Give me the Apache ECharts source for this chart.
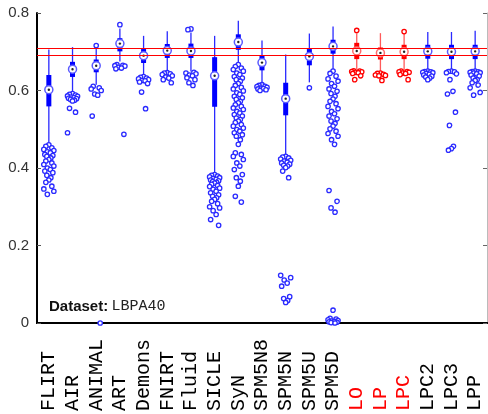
<!DOCTYPE html>
<html>
<head>
<meta charset="utf-8">
<script src="https://cdn.jsdelivr.net/npm/echarts@6/dist/echarts.min.js"></script>
<style>
  html, body { margin: 0; padding: 0; background: #fff; }
  #chart { width: 488px; height: 414px; }
</style>
</head>
<body>
<div id="chart"></div>
<script>
const categories = ['FLIRT', 'AIR', 'ANIMAL', 'ART', 'Demons', 'FNIRT', 'Fluid', 'SICLE', 'SyN', 'SPM5N8',
    'SPM5N', 'SPM5U', 'SPM5D', 'LO', 'LP', 'LPC', 'LPC2', 'LPC3', 'LPP'];
const redCategories = ['LO', 'LP', 'LPC'];

const whiskerHigh = [0.706, 0.712, 0.711, 0.760, 0.741, 0.753, 0.750, 0.741, 0.780, 0.729,
    0.693, 0.747, 0.765, 0.748, 0.748, 0.748, 0.751, 0.751, 0.754];
const boxHigh = [0.640, 0.674, 0.680, 0.735, 0.707, 0.720, 0.721, 0.686, 0.745, 0.690,
    0.620, 0.707, 0.731, 0.723, 0.711, 0.718, 0.718, 0.718, 0.718];
const medians = [0.602, 0.655, 0.664, 0.721, 0.690, 0.703, 0.702, 0.638, 0.725, 0.672,
    0.579, 0.688, 0.714, 0.702, 0.697, 0.700, 0.701, 0.700, 0.701];
const boxLow = [0.559, 0.635, 0.647, 0.701, 0.671, 0.684, 0.684, 0.558, 0.705, 0.652,
    0.536, 0.665, 0.695, 0.681, 0.680, 0.681, 0.682, 0.681, 0.681];
const whiskerLow = [0.456, 0.594, 0.615, 0.675, 0.641, 0.649, 0.649, 0.383, 0.671, 0.615,
    0.430, 0.621, 0.654, 0.654, 0.647, 0.652, 0.652, 0.652, 0.652];

const outliers = [
    [0.460, 0.456, 0.452, 0.448, 0.445, 0.442, 0.439, 0.435, 0.432, 0.430, 0.426, 0.422, 0.418, 0.413,
        0.409, 0.405, 0.400, 0.396, 0.392, 0.388, 0.381, 0.375, 0.369, 0.363, 0.353, 0.346, 0.340, 0.332],
    [0.592, 0.590, 0.588, 0.586, 0.585, 0.583, 0.582, 0.580, 0.579, 0.577, 0.575, 0.573, 0.554, 0.544, 0.491],
    [0.716, 0.611, 0.607, 0.604, 0.600, 0.591, 0.588, 0.534, 0.0],
    [0.770, 0.667, 0.665, 0.664, 0.663, 0.660, 0.658, 0.656, 0.487],
    [0.636, 0.634, 0.632, 0.630, 0.628, 0.626, 0.625, 0.622, 0.618, 0.596, 0.553],
    [0.646, 0.645, 0.643, 0.641, 0.638, 0.635, 0.632, 0.628, 0.620],
    [0.759, 0.757, 0.647, 0.645, 0.643, 0.640, 0.638, 0.633, 0.628, 0.620, 0.613],
    [0.383, 0.381, 0.379, 0.377, 0.375, 0.373, 0.371, 0.369, 0.367, 0.365, 0.363, 0.361, 0.358, 0.355,
        0.352, 0.348, 0.345, 0.340, 0.336, 0.331, 0.327, 0.323, 0.319, 0.314, 0.308, 0.300, 0.297, 0.290,
        0.280, 0.267, 0.252],
    [0.667, 0.662, 0.658, 0.654, 0.650, 0.645, 0.641, 0.636, 0.632, 0.628, 0.624, 0.618, 0.613, 0.608,
        0.604, 0.599, 0.594, 0.590, 0.585, 0.581, 0.577, 0.572, 0.568, 0.563, 0.559, 0.555, 0.551, 0.546,
        0.542, 0.538, 0.534, 0.529, 0.525, 0.521, 0.517, 0.512, 0.508, 0.503, 0.499, 0.495, 0.491, 0.486,
        0.482, 0.473, 0.461, 0.439, 0.435, 0.430, 0.422, 0.413, 0.405, 0.396, 0.383, 0.375, 0.366, 0.353,
        0.327, 0.312],
    [0.615, 0.613, 0.611, 0.610, 0.608, 0.606, 0.605, 0.604, 0.602, 0.600],
    [0.430, 0.428, 0.426, 0.423, 0.420, 0.418, 0.415, 0.413, 0.410, 0.407, 0.405, 0.401, 0.392, 0.375,
        0.123, 0.117, 0.111, 0.103, 0.095, 0.068, 0.063, 0.058, 0.053],
    [0.607],
    [0.650, 0.644, 0.637, 0.630, 0.624, 0.618, 0.611, 0.604, 0.598, 0.592, 0.585, 0.578, 0.572, 0.566,
        0.559, 0.553, 0.546, 0.540, 0.534, 0.527, 0.521, 0.515, 0.508, 0.501, 0.495, 0.489, 0.482, 0.473,
        0.461, 0.342, 0.314, 0.297, 0.286, 0.033, 0.012, 0.010, 0.008, 0.006, 0.005, 0.004, 0.003, 0.002,
        0.001, 0.0],
    [0.755, 0.651, 0.650, 0.649, 0.648, 0.647, 0.646, 0.644, 0.638, 0.628],
    [0.645, 0.644, 0.642, 0.640, 0.639, 0.638, 0.626],
    [0.752, 0.650, 0.649, 0.648, 0.647, 0.645, 0.644, 0.641, 0.628],
    [0.650, 0.649, 0.648, 0.647, 0.646, 0.644, 0.642, 0.640, 0.637, 0.635, 0.632, 0.628],
    [0.650, 0.649, 0.648, 0.646, 0.643, 0.628, 0.598, 0.591, 0.544, 0.510, 0.456, 0.450, 0.446],
    [0.650, 0.649, 0.648, 0.647, 0.646, 0.645, 0.643, 0.640, 0.637, 0.632, 0.628, 0.626, 0.620, 0.614,
        0.607, 0.595, 0.588]
];

const refLines = [0.710, 0.686];
const yTicks = [0, 0.2, 0.4, 0.6, 0.8];

const BLUE = '#0000ff';
const RED = '#ff0000';

function isRed(i) {
    return redCategories.indexOf(categories[i]) >= 0;
}

const boxData = categories.map((c, i) => [i, whiskerLow[i], boxLow[i], medians[i], boxHigh[i], whiskerHigh[i]]);
const outlierData = [];
outliers.forEach((list, i) => {
    list.forEach((v, k) => outlierData.push([i, v, k]));
});

// small horizontal spread so overlapping outliers stay visible
const jitter = [0, -3, 3, -5, 5, -1.5, 1.5, -4, 4, -2, 2];

const chart = echarts.init(document.getElementById('chart'));

const option = {
    animation: false,
    backgroundColor: '#fff',
    grid: {left: 37, right: 1, top: 13, bottom: 90},
    xAxis: [
        {
            type: 'category',
            data: categories,
            position: 'bottom',
            axisLine: {lineStyle: {color: '#000', width: 2}},
            axisTick: {show: false},
            axisLabel: {
                rotate: 90,
                align: 'left',
                margin: 88,
                interval: 0,
                fontFamily: 'Liberation Mono',
                fontSize: 20,
                color: '#000',
                formatter: function (v) {
                    return redCategories.indexOf(v) >= 0 ? '{r|' + v + '}' : v;
                },
                rich: {
                    r: {color: RED, fontFamily: 'Liberation Mono', fontSize: 20}
                }
            }
        },
        {
            type: 'category',
            data: categories,
            position: 'top',
            axisLine: {lineStyle: {color: '#000', width: 2}},
            axisTick: {show: false},
            axisLabel: {show: false}
        }
    ],
    yAxis: [
        {
            type: 'value',
            min: yTicks[0],
            max: yTicks[yTicks.length - 1],
            interval: 0.2,
            axisLine: {show: true, lineStyle: {color: '#000', width: 2}},
            axisTick: {show: true, inside: true, length: 4, lineStyle: {color: '#555'}},
            splitLine: {show: false},
            axisLabel: {
                margin: 8,
                fontFamily: 'Liberation Sans',
                fontSize: 15,
                color: '#333',
                formatter: v => v === 0 ? '0' : v.toFixed(1)
            }
        },
        {
            type: 'value',
            position: 'right',
            min: yTicks[0],
            max: yTicks[yTicks.length - 1],
            interval: 0.2,
            axisLine: {show: true, lineStyle: {color: '#bbb', width: 1}},
            axisTick: {show: true, inside: true, length: 4, lineStyle: {color: '#666'}},
            splitLine: {show: false},
            axisLabel: {show: false}
        }
    ],
    graphic: [
        {
            type: 'text',
            left: 49,
            top: 299,
            style: {
                text: '{b|Dataset:} {m|LBPA40}',
                rich: {
                    b: {fontFamily: 'Liberation Sans', fontWeight: 'bold', fontSize: 15, fill: '#111'},
                    m: {fontFamily: 'Liberation Mono', fontSize: 15, fill: '#222'}
                }
            }
        }
    ],
    series: [
        {
            name: 'Box',
            type: 'custom',
            data: boxData,
            z: 2,
            renderItem: function (params, api) {
                const i = api.value(0);
                const red = isRed(i);
                const c = red ? RED : BLUE;
                const lo = api.coord([i, api.value(1)]);
                const q1 = api.coord([i, api.value(2)]);
                const med = api.coord([i, api.value(3)]);
                const q3 = api.coord([i, api.value(4)]);
                const hi = api.coord([i, api.value(5)]);
                return {
                    type: 'group',
                    children: [
                        {
                            type: 'line',
                            shape: {x1: lo[0], y1: lo[1], x2: hi[0], y2: hi[1]},
                            style: {stroke: red ? '#ff5a5a' : '#2a2aff', lineWidth: 1.3}
                        },
                        {
                            type: 'rect',
                            shape: {x: q3[0] - 2.5, y: q3[1], width: 5, height: q1[1] - q3[1]},
                            style: {fill: c}
                        }
                    ]
                };
            },
            markLine: {
                silent: true,
                symbol: 'none',
                label: {show: false},
                lineStyle: {color: RED, width: 1, type: 'solid'},
                data: refLines.map(v => ({yAxis: v}))
            }
        },
        {
            name: 'Outliers',
            type: 'custom',
            data: outlierData,
            z: 3,
            renderItem: function (params, api) {
                const i = api.value(0);
                const p = api.coord([i, api.value(1)]);
                const dx = jitter[api.value(2) % jitter.length];
                return {
                    type: 'circle',
                    shape: {cx: p[0] + dx, cy: p[1], r: 2.2},
                    style: {fill: '#fff', stroke: isRed(i) ? RED : '#2a2aff', lineWidth: 1.3}
                };
            }
        },
        {
            name: 'Median',
            type: 'custom',
            data: boxData,
            z: 4,
            renderItem: function (params, api) {
                const i = api.value(0);
                const med = api.coord([i, api.value(3)]);
                return {
                    type: 'group',
                    children: [
                        {
                            type: 'circle',
                            shape: {cx: med[0], cy: med[1], r: 4},
                            style: {fill: '#fff', stroke: isRed(i) ? '#ff6a6a' : '#5a5aff', lineWidth: 1.5}
                        },
                        {
                            type: 'circle',
                            shape: {cx: med[0], cy: med[1], r: 1.2},
                            style: {fill: '#222'}
                        }
                    ]
                };
            }
        }
    ]
};

chart.setOption(option);
</script>
</body>
</html>
